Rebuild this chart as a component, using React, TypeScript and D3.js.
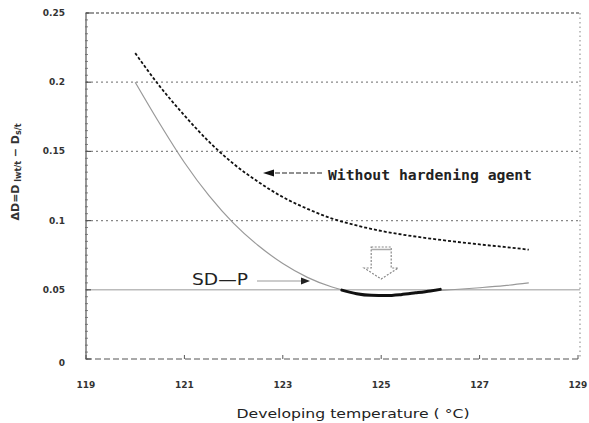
import React from "react";
import * as d3 from "d3";

const W = 589;
const H = 423;

const xTicks = [119, 121, 123, 125, 127, 129];
const yTicks = [0, 0.05, 0.1, 0.15, 0.2, 0.25];
const yTickLabels = ["0", "0.05", "0.1", "0.15", "0.2", "0.25"];

const withoutTemps = [120, 120.5, 121, 121.5, 122, 122.5, 123, 123.5, 124, 124.5, 125, 125.5, 126, 126.5, 127, 127.5, 128];
const withoutValues = [0.221, 0.197, 0.176, 0.157, 0.141, 0.128, 0.117, 0.1085, 0.1015, 0.0965, 0.0925, 0.0895, 0.087, 0.0848, 0.0828, 0.081, 0.079];

const sdpTemps = [120, 120.5, 121, 121.5, 122, 122.5, 123, 123.5, 124, 124.5, 125, 125.5, 126, 126.5, 127, 127.5, 128];
const sdpValues = [0.2, 0.17, 0.142, 0.118, 0.098, 0.082, 0.069, 0.059, 0.052, 0.0475, 0.0458, 0.047, 0.0492, 0.0502, 0.0515, 0.053, 0.055];

const boldTemps = [124.2, 124.5, 124.8, 125.1, 125.4, 125.7, 126, 126.2];
const boldValues = [0.0498, 0.0472, 0.046, 0.0458, 0.0465, 0.0478, 0.0492, 0.0503];

const minorStep = 0.005;

export default function App() {
  const x = d3.scaleLinear().domain([119, 129]).range([86, 578]);
  const y = d3.scaleLinear().domain([0, 0.25]).range([359, 13]);
  const line = d3
    .line<[number, number]>()
    .x((d) => x(d[0]))
    .y((d) => y(d[1]))
    .curve(d3.curveMonotoneX);
  const withoutPts = withoutTemps.map((t, i) => [t, withoutValues[i]] as [number, number]);
  const sdpPts = sdpTemps.map((t, i) => [t, sdpValues[i]] as [number, number]);
  const boldPts = boldTemps.map((t, i) => [t, boldValues[i]] as [number, number]);
  const minors = d3.range(0, 0.2501, minorStep);
  const x0 = x(119);
  const x1 = 580;
  const tickFont = { fontFamily: "DejaVu Sans", fontSize: 9, fill: "#333", fontWeight: 700 } as const;

  const ax = x(125);
  const arrowPath = `M${ax - 10},247 L${ax + 10},247 L${ax + 10},268 L${ax + 17},268 L${ax},279 L${ax - 17},268 L${ax - 10},268 Z`;

  return (
    <svg width={W} height={H} style={{ position: "absolute", left: 0, top: 0, background: "#fff" }}>
      <rect width={W} height={H} fill="#fff" />
      {yTicks.filter((v) => v > 0 && v < 0.25 && v !== 0.05).map((v) => (
        <line key={v} x1={x0} x2={x1} y1={y(v)} y2={y(v)} stroke="#888" strokeWidth={1.2} strokeDasharray="2,3" />
      ))}
      <line x1={x0} x2={x1} y1={y(0.05)} y2={y(0.05)} stroke="#bbb" strokeWidth={1.6} />
      <line x1={x0} x2={x1} y1={y(0.25)} y2={y(0.25)} stroke="#999" strokeWidth={1.8} strokeDasharray="3,2" />
      <line x1={x1} x2={x1} y1={y(0.25)} y2={y(0)} stroke="#999" strokeWidth={1.2} strokeDasharray="1.5,3" />
      <line x1={x0} x2={x0} y1={y(0.25)} y2={y(0)} stroke="#555" strokeWidth={1.2} />
      {minors.map((v, i) => (
        <line key={i} x1={x0 - 1} x2={x0 + 2} y1={y(v)} y2={y(v)} stroke="#666" strokeWidth={0.8} />
      ))}
      {yTicks.map((v, i) => (
        <g key={v}>
          <line x1={x0} x2={x0 + 5} y1={y(v)} y2={y(v)} stroke="#555" strokeWidth={1.2} />
          <text x={65} y={y(v) + (v === 0 ? 7 : 3)} textAnchor="end" {...tickFont}>
            {yTickLabels[i]}
          </text>
        </g>
      ))}
      <line x1={x0} x2={x1} y1={y(0)} y2={y(0)} stroke="#555" strokeWidth={1.2} strokeDasharray="6,3" />
      {xTicks.map((t) => (
        <g key={t}>
          <line x1={x(t)} x2={x(t)} y1={y(0)} y2={y(0) - 4} stroke="#555" strokeWidth={1} />
          <text x={x(t)} y={388} textAnchor="middle" {...tickFont}>
            {t}
          </text>
        </g>
      ))}
      <path d={line(sdpPts) || ""} fill="none" stroke="#999" strokeWidth={1.2} />
      <path d={line(boldPts) || ""} fill="none" stroke="#111" strokeWidth={3} strokeLinecap="round" />
      <path d={line(withoutPts) || ""} fill="none" stroke="#111" strokeWidth={1.8} strokeDasharray="3,2" />
      <line x1={268} x2={322} y1={173} y2={173} stroke="#222" strokeWidth={1.2} strokeDasharray="5,2" />
      <path d="M263,173 L274,169.5 L274,176.5 Z" fill="#111" />
      <text x={328} y={180} fontFamily="DejaVu Sans Mono" fontWeight={700} fontSize={14} fill="#222" textLength={204} lengthAdjust="spacingAndGlyphs">
        Without hardening agent
      </text>
      <text x={192} y={285} fontFamily="DejaVu Sans" fontSize={15} fill="#222" textLength={56} lengthAdjust="spacingAndGlyphs">
        SD—P
      </text>
      <line x1={257} x2={304} y1={281} y2={281} stroke="#999" strokeWidth={1.2} />
      <path d="M310,281 L301,277.5 L301,284.5 Z" fill="#222" />
      <path d={arrowPath} fill="#fff" stroke="#888" strokeWidth={1.2} strokeDasharray="2,1.5" />
      <line x1={ax - 10} x2={ax + 10} y1={249.5} y2={249.5} stroke="#aaa" strokeWidth={1.5} />
      <text x={353} y={418} textAnchor="middle" fontFamily="DejaVu Sans" fontSize={13} fill="#222" textLength={233} lengthAdjust="spacingAndGlyphs">
        Developing temperature ( °C)
      </text>
      <g transform="translate(19,172) rotate(-90)">
        <text textAnchor="middle" fontFamily="DejaVu Sans" fontSize={11} fontWeight={700} fill="#333">
          <tspan>ΔD=D</tspan>
          <tspan fontSize={8} dy={2}> lwt/t</tspan>
          <tspan dy={-2}> − D</tspan>
          <tspan fontSize={8} dy={2}>s/t</tspan>
        </text>
      </g>
    </svg>
  );
}
